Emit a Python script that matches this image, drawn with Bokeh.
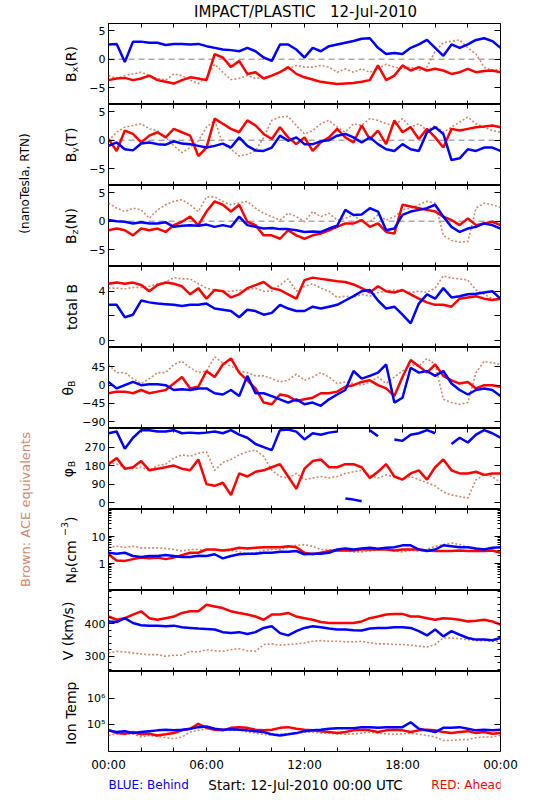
import math
from bokeh.plotting import figure
from bokeh.models import Range1d, LinearAxis, LogAxis, FixedTicker, Label, Span
from bokeh.layouts import column, row
from bokeh.embed import file_html
from bokeh.resources import INLINE

FONT = "DejaVu Sans"
BLUE = "#0000ff"
RED = "#ff0000"
BROWN = "#cd8a6e"

# ---------------- data (30-minute samples) ----------------
TIME_H = [0.0, 0.5, 1.0, 1.5, 2.0, 2.5, 3.0, 3.5, 4.0, 4.5, 5.0, 5.5, 6.0, 6.5, 7.0, 7.5,
          8.0, 8.5, 9.0, 9.5, 10.0, 10.5, 11.0, 11.5, 12.0, 12.5, 13.0, 13.5, 14.0, 14.5,
          15.0, 15.5, 16.0, 16.5, 17.0, 17.5, 18.0, 18.5, 19.0, 19.5, 20.0, 20.5, 21.0,
          21.5, 22.0, 22.5, 23.0, 23.5, 24.0]

BX_BEHIND = [2.6, 2.7, -0.5, 3.1, 3.1, 2.9, 2.9, 2.5, 2.7, 2.7, 2.6, 2.7, 2.3, 2.0, 1.7, 1.6,
             1.4, 2.0, 1.4, 0.3, -0.3, 2.6, 2.6, 1.7, 0.3, 2.0, 1.4, 2.3, 2.6, 2.9, 3.2, 3.6,
             3.7, 2.0, 0.9, 1.1, 0.9, 2.0, 2.6, 3.4, 2.0, 0.6, 2.6, 2.0, 2.6, 3.4, 3.7, 3.2, 2.0]
BX_AHEAD = [-3.7, -3.4, -3.3, -3.7, -3.4, -2.9, -3.7, -4.0, -4.3, -3.7, -3.2, -3.4, -3.7, 0.9,
            0.3, -1.4, -0.3, -2.6, -2.3, -3.4, -2.9, -2.3, -1.4, -2.6, -3.2, -3.6, -4.0, -4.2,
            -4.4, -4.3, -4.2, -4.0, -3.7, -1.1, -3.7, -2.9, -1.1, -2.0, -1.4, -2.0, -1.7, -2.0,
            -2.6, -2.3, -1.7, -2.3, -2.1, -2.0, -2.3]
BX_ACE = [-2.9, -3.4, -2.9, -2.6, -2.3, -2.9, -3.4, -3.7, -2.6, -2.9, -3.7, -4.3, -3.2, -0.9,
          -2.3, -3.6, -3.4, -2.9, -3.4, -3.2, -2.9, -2.3, -1.7, -1.1, -1.4, -1.4, -1.1, -1.4,
          -2.3, -1.7, -2.3, -1.7, -2.3, -1.7, -0.9, -1.4, -1.7, -1.4, -2.0, -1.4, 1.4, 2.9,
          3.2, 3.4, 2.0, 0.9, -1.4, -2.0, -1.7]

BY_BEHIND = [-1.0, -0.4, -1.6, -1.8, -0.6, -0.4, -0.7, -0.8, -0.2, -0.6, -0.7, -1.0, -1.3, -1.0,
             -0.6, -1.3, 0.5, -1.0, -1.8, -1.9, -1.3, 0.8, -0.1, 0.5, -0.7, -0.7, -0.2, 0.0,
             0.8, 1.1, 0.5, -0.4, 0.5, -0.7, -1.6, -1.9, -0.7, -1.6, -1.9, 1.4, 2.3, 1.1, -3.5,
             -3.2, -1.6, -1.9, -1.3, -1.3, -1.9]
BY_AHEAD = [0.2, -1.9, 1.7, 1.1, -0.4, 0.8, 1.4, 0.5, 2.0, 1.4, 0.8, -2.8, -1.3, 3.8, 2.9, 2.0,
            1.4, 3.5, 2.6, 1.1, 0.2, 2.3, 0.5, -0.7, 0.5, -1.9, -0.4, 0.5, 2.0, 0.5, -0.4, 2.6,
            0.2, 1.7, -0.7, 3.5, 1.4, 2.3, 0.2, 2.0, 0.5, -1.3, 2.0, 1.7, 2.0, 2.3, 2.4, 2.6, 2.3]
BY_ACE = [-0.1, 1.4, 2.3, 2.6, 2.9, 2.0, 1.7, 0.5, -1.0, -2.2, -1.3, -0.1, 2.3, 3.5, -0.7, -1.6,
          -2.8, -2.5, -1.9, 0.5, 3.5, 4.1, 4.2, 2.6, 1.1, 1.7, 2.9, 3.5, 2.3, 1.4, 2.9, 2.6, 3.8,
          3.5, 2.9, 2.6, 3.8, 2.3, 2.9, 1.7, 2.6, 1.4, 2.3, 3.2, 4.1, 2.9, 2.3, 1.7, 1.4]

BZ_BEHIND = [0.2, 0.0, -0.1, -0.4, -0.2, -0.4, -0.4, -0.2, -1.0, -0.8, -0.7, -0.8, -0.6, -1.0,
             -0.7, -1.0, 0.8, -0.7, -1.0, -1.3, -1.2, -1.4, -1.4, -1.6, -1.9, -1.8, -1.9, -1.3,
             -0.8, 2.0, 1.1, 1.2, 2.3, 1.7, -1.6, -1.3, 1.1, 1.7, 2.0, 2.3, 2.9, 0.8, -1.0, -1.9,
             -1.3, -1.0, -0.4, -0.7, -1.3]
BZ_AHEAD = [-1.6, -1.3, -1.6, -2.5, -1.3, -1.6, -1.3, -1.9, -0.7, -0.1, 0.8, -0.7, 1.7, 3.5, 2.9,
            1.7, 2.9, -0.1, -0.7, -2.5, -2.5, -3.1, -1.6, -2.5, -3.1, -2.5, -2.2, -1.6, -1.0,
            -0.4, -0.4, 0.2, -1.0, -0.4, -1.9, -2.2, 2.9, 2.6, 2.3, 2.0, 1.7, 0.8, 0.2, -0.7, 0.5,
            -0.7, -0.4, -0.1, -0.7]
BZ_ACE = [3.2, 2.3, 1.7, 2.3, 2.0, 0.5, 2.0, 2.9, 3.5, 3.8, 2.9, 1.7, 4.3, 4.3, 3.5, 2.9, 3.2,
          3.5, 2.3, 1.4, 0.8, 0.2, 1.4, 0.8, -0.1, 1.7, 0.8, 1.4, 0.2, 0.5, 1.1, -0.1, -0.1, 1.1,
          0.2, 0.8, 2.0, 2.3, 2.9, 3.5, 3.2, -2.5, -3.4, -3.7, -3.6, 2.3, 3.2, 2.9, 2.4]

BT_BEHIND = [2.9, 2.9, 1.9, 2.1, 3.25, 3.1, 3.0, 2.95, 2.9, 2.8, 2.9, 2.9, 3.0, 2.6, 2.5, 2.4,
             1.9, 2.5, 2.4, 2.1, 2.25, 2.9, 2.6, 2.4, 2.4, 2.75, 2.6, 2.75, 2.9, 3.25, 3.6, 4.0,
             4.1, 3.25, 2.6, 2.75, 2.1, 1.4, 3.0, 3.75, 3.4, 4.25, 3.5, 3.6, 3.75, 3.8, 3.9, 4.0,
             3.4]
BT_AHEAD = [4.6, 4.7, 4.6, 4.7, 4.5, 4.0, 4.5, 4.7, 4.6, 4.4, 3.75, 4.25, 3.4, 4.1, 4.0, 3.5,
            3.75, 4.25, 4.5, 4.75, 4.25, 4.1, 3.75, 3.4, 4.9, 5.1, 5.0, 4.9, 4.8, 4.75, 4.55,
            4.25, 3.9, 4.4, 4.0, 3.9, 4.1, 3.75, 3.4, 3.1, 2.9, 2.9, 2.75, 3.4, 3.5, 3.6, 3.4,
            3.3, 3.4]
BT_ACE = [4.25, 4.25, 4.2, 4.3, 4.3, 4.4, 4.6, 4.75, 5.1, 5.0, 5.0, 4.6, 4.25, 4.1, 4.0, 4.0,
          4.1, 4.1, 4.25, 4.0, 4.0, 4.5, 5.0, 4.0, 4.4, 4.6, 4.25, 4.0, 3.5, 3.6, 3.5, 3.75,
          3.6, 3.9, 4.0, 4.1, 4.0, 3.9, 4.0, 3.9, 4.25, 5.25, 5.05, 5.0, 4.9, 4.1, 3.75, 3.4, 3.3]

THETA_BEHIND = [8, -8, 0, 8, 0, 2, 2, 0, -12, -10, -12, -8, -8, -20, -23, -12, -27, 23, -20, -20,
                -27, -35, -43, -35, -47, -43, -51, -35, -23, -12, 35, 16, 23, 31, 51, -43, -31,
                43, 31, 35, 23, 35, 4, -12, -23, -12, -8, -12, -27]
THETA_AHEAD = [-20, -16, -16, -20, -12, -20, -16, -12, 4, 20, -8, -4, 35, 20, 51, 66, 31, 12, -8,
               -43, -47, -23, -27, -39, -35, -31, -20, -20, -16, -4, 0, 8, 12, 0, -8, -27, 20,
               62, 47, 31, 51, 23, 12, 4, 8, -8, 0, 0, -4]
THETA_ACE = [51, 31, 31, 16, 4, 16, 31, 31, 51, 59, 43, 31, 35, 70, 55, 47, 35, 31, 23, 23, 16, 8,
             12, 27, 12, 20, 31, 20, 4, 8, 4, 0, 8, 20, 4, 20, 35, 51, 47, 66, 51, -35, -43, -47,
             -43, 31, 59, 55, 51]

PHI_BEHIND = [337, 345, 262, 315, 352, 352, 345, 345, 352, 337, 340, 337, 340, 345, 337, 352, 330,
              315, 285, 270, 255, 352, 355, 345, 307, 337, 330, 340, 345, 20, 15, 7, 352, 322, 15,
              307, 300, 330, 337, 352, 337, 30, 285, 315, 292, 330, 352, 337, 315]
PHI_AHEAD = [187, 217, 165, 172, 202, 157, 165, 172, 180, 165, 157, 210, 90, 82, 97, 37, 142, 127,
             150, 157, 172, 187, 127, 67, 165, 202, 210, 172, 172, 187, 187, 172, 120, 150, 187,
             127, 112, 142, 157, 112, 172, 210, 157, 142, 142, 150, 135, 142, 142]
PHI_ACE = [195, 187, 172, 165, 172, 157, 180, 187, 217, 232, 225, 240, 247, 157, 195, 210, 232,
           247, 255, 225, 157, 127, 120, 142, 112, 120, 127, 120, 127, 142, 150, 157, 135, 120,
           135, 127, 112, 127, 112, 97, 82, 52, 37, 30, 22, 112, 135, 127, 97]

NP_BEHIND = [2.5, 2.3, 2.5, 1.9, 1.75, 1.9, 1.9, 2.05, 1.9, 1.75, 1.75, 1.95, 1.9, 2.2, 1.55, 1.9,
             2.2, 2.3, 2.3, 2.5, 2.5, 2.7, 2.7, 2.9, 2.2, 2.3, 2.3, 2.5, 3.3, 3.6, 3.3, 3.6, 3.8,
             3.5, 3.8, 4.0, 4.7, 4.7, 3.3, 2.9, 3.3, 4.7, 4.35, 4.0, 4.0, 3.6, 3.3, 3.8, 4.0]
NP_AHEAD = [2.2, 1.3, 1.25, 1.45, 1.65, 1.55, 1.65, 1.45, 1.65, 2.05, 2.5, 2.5, 3.3, 3.3, 3.05,
            3.3, 3.8, 3.6, 3.8, 4.0, 4.0, 4.0, 4.35, 4.0, 2.5, 2.2, 2.5, 2.9, 3.05, 3.05, 3.05,
            3.3, 3.3, 3.3, 3.3, 3.05, 3.3, 3.3, 3.3, 3.05, 2.9, 2.9, 2.9, 3.05, 2.9, 2.9, 2.9,
            3.05, 2.5]
NP_ACE = [4.0, 4.35, 4.0, 4.35, 3.8, 3.8, 3.8, 3.6, 3.3, 2.9, 3.3, 3.3, 3.05, 3.3, 2.9, 3.05,
          2.7, 2.3, 2.5, 3.05, 3.3, 3.3, 4.0, 4.7, 5.0, 4.35, 3.3, 3.3, 2.9, 2.9, 2.7, 2.7, 2.9,
          3.3, 3.6, 2.9, 2.7, 3.05, 2.9, 3.3, 4.35, 5.0, 5.75, 5.0, 4.0, 3.3, 3.05, 3.05, 2.9]

V_BEHIND = [407, 405, 417, 402, 395, 394, 394, 392, 394, 389, 387, 385, 384, 382, 374, 371, 374,
            368, 374, 387, 392, 371, 364, 377, 387, 392, 389, 385, 382, 382, 380, 379, 385, 387,
            387, 389, 389, 387, 377, 364, 382, 361, 377, 366, 356, 351, 351, 349, 356]
V_AHEAD = [422, 412, 417, 428, 438, 417, 412, 417, 422, 433, 438, 438, 458, 453, 448, 438, 433,
           428, 422, 412, 428, 428, 433, 422, 417, 412, 405, 402, 402, 402, 402, 407, 417, 422,
           428, 430, 430, 422, 422, 417, 412, 417, 415, 412, 407, 409, 412, 407, 397]
V_ACE = [310, 315, 313, 310, 307, 305, 305, 300, 303, 303, 315, 313, 320, 317, 315, 320, 323, 317,
         315, 336, 338, 334, 336, 338, 341, 346, 348, 346, 346, 344, 344, 346, 341, 338, 338, 336,
         336, 334, 331, 328, 336, 356, 356, 354, 351, 348, 348, 346, 346]

TEMP_BEHIND = [62000, 53500, 58000, 49000, 53500, 58000, 62000, 65000, 62000, 65000, 71000,
               82000, 87000, 71000, 65000, 69000, 65000, 62000, 58000, 53500, 44000, 40000,
               44000, 49000, 58000, 62000, 65000, 71000, 75000, 75000, 75000, 82000, 82000,
               77000, 82000, 82000, 82000, 125000, 71000, 62000, 53500, 77000, 77000, 82000,
               71000, 62000, 65000, 62000, 65000]
TEMP_AHEAD = [65000, 49000, 46000, 53500, 44000, 46000, 40000, 44000, 49000, 62000, 71000,
              109000, 77000, 65000, 62000, 77000, 82000, 77000, 65000, 62000, 65000, 77000,
              82000, 71000, 65000, 62000, 58000, 53500, 49000, 53500, 62000, 65000, 62000,
              53500, 62000, 65000, 62000, 53500, 62000, 65000, 62000, 53500, 49000, 53500,
              58000, 49000, 53500, 46000, 49000]
TEMP_ACE = [40000, 46000, 44000, 46000, 35000, 40000, 37000, 33000, 30000, 35000, 53500, 62000,
            71000, 65000, 71000, 62000, 65000, 53500, 49000, 44000, 40000, 46000, 44000, 46000,
            53500, 53500, 49000, 49000, 46000, 44000, 46000, 49000, 53500, 49000, 46000, 44000,
            46000, 49000, 44000, 40000, 35000, 26000, 26000, 28000, 28000, 33000, 35000, 35000,
            40000]

X_TICKS = [0, 6, 12, 18, 24]
X_MINOR = [2, 4, 8, 10, 14, 16, 20, 22]
X_LABELS = {0: "00:00", 6: "06:00", 12: "12:00", 18: "18:00", 24: "00:00"}

TITLE = "IMPACT/PLASTIC\u00a0\u00a0\u00a012-Jul-2010"

# ---------------- layout constants (page has no margin) ----------------
FRAME_H = 81
FRAME_W = 394
LEFT_W = 79          # strip holding all the rotated left-hand labels
BORDER_L = 27        # room for the tick labels of each panel
BORDER_R = 22
PANEL_W = BORDER_L + FRAME_W + BORDER_R
TITLE_H = 23
XLAB_B = 22
LEGEND_H = 24

CHAR_EM = {"B": 0.686, "R": 0.695, "T": 0.611, "N": 0.748, "V": 0.684, "I": 0.295, "P": 0.603,
           "(": 0.390, ")": 0.390, "x": 0.592, "y": 0.592, "z": 0.525, "o": 0.612, "t": 0.392,
           "a": 0.613, "l": 0.278, "n": 0.634, "e": 0.615, "m": 0.974, "p": 0.635, "c": 0.550,
           "k": 0.579, "s": 0.521, "/": 0.337, " ": 0.318, "\u03b8": 0.602, "\u03c6": 0.710,
           "\u2212": 0.838, "3": 0.636}


def text_w(s, size):
    return sum(CHAR_EM.get(c, 0.6) for c in s) * size


def add_vlabel(f, parts, base_x, center_y, size=14, color="black"):
    small = round(size * 0.68, 1)
    total = sum(text_w(t, size if k == "n" else small) for t, k in parts)
    y = center_y - total / 2
    for t, k in parts:
        fs = size if k == "n" else small
        dx = {"n": 0, "sub": 0.3 * size, "sup": -0.45 * size}[k]
        f.add_layout(Label(x=base_x + dx, y=y, x_units="screen", y_units="screen", text=t,
                           angle=math.pi / 2, text_font=FONT, text_font_size=f"{fs}px",
                           text_align="left", text_baseline="alphabetic", text_color=color))
        y += text_w(t, fs)


def break_wraps(t, v, jump=180):
    tt, vv = [], []
    for i, (a, b) in enumerate(zip(t, v)):
        if i and abs(b - v[i - 1]) > jump:
            tt.append((a + t[i - 1]) / 2)
            vv.append(float("nan"))
        tt.append(a)
        vv.append(b)
    return tt, vv


M = "\u2212"
PANELS = [
    dict(label=[("B", "n"), ("x", "sub"), ("(R)", "n")], lx=70, yr=(-8.0, 6.3), log=False,
         ticks=[-5, 0, 5], minor=[], over={-5: M + "5", 0: "0", 5: "5"}, zero=True,
         data=(BX_ACE, BX_AHEAD, BX_BEHIND)),
    dict(label=[("B", "n"), ("y", "sub"), ("(T)", "n")], lx=70, yr=(-8.0, 6.3), log=False,
         ticks=[-5, 0, 5], minor=[], over={-5: M + "5", 0: "0", 5: "5"}, zero=True,
         data=(BY_ACE, BY_AHEAD, BY_BEHIND)),
    dict(label=[("B", "n"), ("z", "sub"), ("(N)", "n")], lx=70, yr=(-8.0, 6.3), log=False,
         ticks=[-5, 0, 5], minor=[], over={-5: M + "5", 0: "0", 5: "5"}, zero=True,
         data=(BZ_ACE, BZ_AHEAD, BZ_BEHIND)),
    dict(label=[("total B", "n")], lx=71, yr=(-0.55, 6.0), log=False,
         ticks=[0, 2, 4], minor=[], over={0: "0", 2: "", 4: "4"}, zero=False,
         data=(BT_ACE, BT_AHEAD, BT_BEHIND)),
    dict(label=[("\u03b8", "n"), ("B", "sub")], lx=67, yr=(-107, 93), log=False,
         ticks=[-90, -45, 0, 45], minor=[],
         over={-90: M + "90", -45: M + "45", 0: "0", 45: "45"},
         zero=False, data=(THETA_ACE, THETA_AHEAD, THETA_BEHIND)),
    dict(label=[("\u03c6", "n"), ("B", "sub")], lx=67, yr=(-33, 360), log=False,
         ticks=[0, 90, 180, 270], minor=[], over={0: "0", 90: "90", 180: "180", 270: "270"},
         zero=False, wrap=True, data=(PHI_ACE, PHI_AHEAD, PHI_BEHIND)),
    dict(label=[("N", "n"), ("P", "sub"), (" (cm", "n"), (M + "3", "sup"), (")", "n")], lx=70,
         yr=(0.1, 100), log=True, ticks=[1, 10],
         minor=[0.2, 0.3, 0.4, 0.5, 0.6, 0.7, 0.8, 0.9, 2, 3, 4, 5, 6, 7, 8, 9,
                20, 30, 40, 50, 60, 70, 80, 90],
         over={1: "1", 10: "10"}, zero=False, data=(NP_ACE, NP_AHEAD, NP_BEHIND)),
    dict(label=[("V (km/s)", "n")], lx=67, yr=(253, 502), log=False,
         ticks=[300, 400], minor=[260, 280, 320, 340, 360, 380, 420, 440, 460, 480, 500],
         over={300: "300", 400: "400"}, zero=False, data=(V_ACE, V_AHEAD, V_BEHIND)),
    dict(label=[("Ion Temp", "n")], lx=70, yr=(1e4, 1e7), log=True,
         ticks=[1e5, 1e6], minor=[], over={1e5: "10\u2075", 1e6: "10\u2076"}, zero=False,
         data=(TEMP_ACE, TEMP_AHEAD, TEMP_BEHIND)),
]

x_range = Range1d(0, 24)


def axis_common(ax, tick_in, minor_in):
    ax.major_tick_in = tick_in
    ax.major_tick_out = 0
    ax.minor_tick_in = minor_in
    ax.minor_tick_out = 0
    ax.axis_line_color = None
    ax.major_tick_line_color = "black"
    ax.minor_tick_line_color = "black"
    ax.major_label_text_font = FONT
    ax.major_label_text_color = "black"


def hide_labels(ax):
    ax.major_label_text_font_size = "0px"
    ax.major_label_standoff = 0


def blank_fig(w, h, bl=0, br=0):
    f = figure(width=w, height=h, x_range=Range1d(0, 1), y_range=Range1d(0, 1),
               x_axis_location=None, y_axis_location=None, output_backend="svg",
               toolbar_location=None, min_border_left=bl, min_border_right=br,
               min_border_top=0, min_border_bottom=0)
    f.grid.visible = False
    f.outline_line_color = None
    f.background_fill_color = "white"
    f.border_fill_color = "white"
    return f


panels = []
n = len(PANELS)
for i, sp in enumerate(PANELS):
    bot = XLAB_B if i == n - 1 else 0
    p = figure(width=PANEL_W, height=FRAME_H + bot, x_range=x_range,
               y_range=Range1d(*sp["yr"]), y_axis_type="log" if sp["log"] else "linear",
               x_axis_location=None, y_axis_location=None,
               output_backend="svg", toolbar_location=None,
               min_border_left=BORDER_L, min_border_right=BORDER_R,
               min_border_top=0, min_border_bottom=bot)
    p.grid.visible = False
    p.outline_line_color = "black"
    p.outline_line_width = 1
    p.background_fill_color = "white"
    p.border_fill_color = "white"

    AxisY = LogAxis if sp["log"] else LinearAxis
    yl = AxisY(ticker=FixedTicker(ticks=sp["ticks"], minor_ticks=sp["minor"]),
               major_label_overrides=sp["over"])
    axis_common(yl, 6, 3)
    yl.major_label_text_font_size = "11px"
    yl.major_label_standoff = 3
    p.add_layout(yl, "left")
    yr_ax = AxisY(ticker=FixedTicker(ticks=sp["ticks"], minor_ticks=sp["minor"]),
                  major_label_overrides={k: "" for k in sp["ticks"]})
    axis_common(yr_ax, 6, 3)
    hide_labels(yr_ax)
    p.add_layout(yr_ax, "right")

    xt = LinearAxis(ticker=FixedTicker(ticks=X_TICKS, minor_ticks=X_MINOR),
                    major_label_overrides={k: "" for k in X_TICKS})
    axis_common(xt, 4, 4)
    hide_labels(xt)
    p.add_layout(xt, "above")
    if i == n - 1:
        xb = LinearAxis(ticker=FixedTicker(ticks=X_TICKS, minor_ticks=X_MINOR),
                        major_label_overrides=X_LABELS)
        axis_common(xb, 4, 4)
        xb.major_label_text_font_size = "12px"
        xb.major_label_standoff = 6
    else:
        xb = LinearAxis(ticker=FixedTicker(ticks=X_TICKS, minor_ticks=X_MINOR),
                        major_label_overrides={k: "" for k in X_TICKS})
        axis_common(xb, 4, 4)
        hide_labels(xb)
    p.add_layout(xb, "below")

    if sp["zero"]:
        p.add_layout(Span(location=0, dimension="width", line_color="#808080",
                          line_dash="6 4", line_width=1, level="underlay"))

    ace, ahead, behind = sp["data"]
    for vals, col, lw, dash in ((ace, BROWN, 1.6, "2 2"), (ahead, RED, 2.5, "solid"),
                                (behind, BLUE, 2.5, "solid")):
        if sp.get("wrap"):
            tt, vv = break_wraps(TIME_H, vals)
        else:
            tt, vv = TIME_H, vals
        p.line(tt, vv, line_color=col, line_width=lw, line_dash=dash)
    panels.append(p)

# title strip (its frame lines up with the panel frames)
title_fig = blank_fig(PANEL_W, TITLE_H, BORDER_L, BORDER_R)
title_fig.add_layout(Label(x=FRAME_W / 2, y=TITLE_H / 2, x_units="screen", y_units="screen",
                           text=TITLE, text_font=FONT, text_font_size="15px",
                           text_align="center", text_baseline="middle", text_color="black"))

# legend strip
legend_fig = blank_fig(PANEL_W, LEGEND_H, BORDER_L, BORDER_R)
for x, txt, col, al, fs in ((0, "BLUE: Behind", BLUE, "left", "12px"),
                            (FRAME_W / 2, "Start: 12-Jul-2010 00:00 UTC", "black",
                             "center", "13.5px"),
                            (FRAME_W, "RED: Ahead", RED, "right", "12px")):
    legend_fig.add_layout(Label(x=x, y=LEGEND_H - 10, x_units="screen", y_units="screen",
                                text=txt, text_font=FONT, text_font_size=fs, text_align=al,
                                text_baseline="middle", text_color=col))

total_h = TITLE_H + sum(pp.height for pp in panels) + LEGEND_H
left = blank_fig(LEFT_W, total_h)
left.add_layout(Label(x=24, y=total_h - 183, x_units="screen", y_units="screen",
                      text="(nanoTesla, RTN)", angle=math.pi / 2, text_font=FONT,
                      text_font_size="12px", text_align="center",
                      text_baseline="alphabetic", text_color="black"))
left.add_layout(Label(x=25, y=total_h - 509, x_units="screen", y_units="screen",
                      text="Brown: ACE equivalents", angle=math.pi / 2, text_font=FONT,
                      text_font_size="13px", text_align="center",
                      text_baseline="alphabetic", text_color=BROWN))
for i, sp in enumerate(PANELS):
    center_from_bottom = total_h - (TITLE_H + FRAME_H * i + FRAME_H / 2)
    add_vlabel(left, sp["label"], sp["lx"], center_from_bottom, size=14)

layout = row(left, column(title_fig, *panels, legend_fig, spacing=0), spacing=0)
open("out.html", "w").write(file_html(layout, INLINE))
